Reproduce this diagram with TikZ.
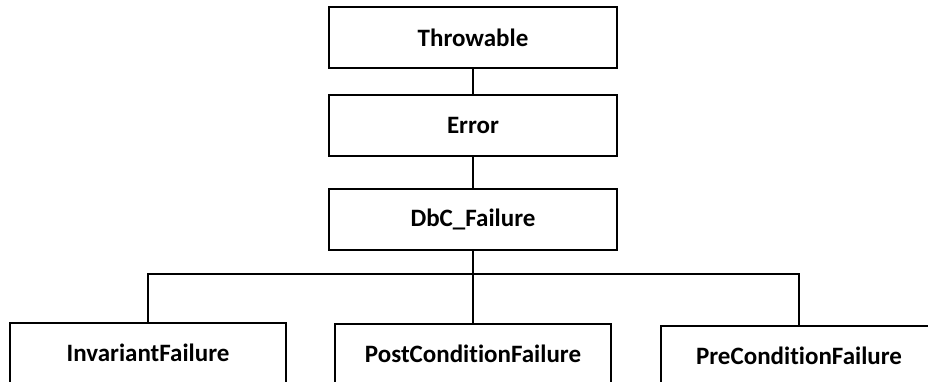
\documentclass[tikz,border=0pt]{standalone}
\usepackage{fontspec}
\setmainfont[Ligatures=NoCommon]{Carlito}
\usetikzlibrary{positioning}

\tikzset{
  cls/.style={rectangle, draw, line width=2pt, minimum width=288pt, minimum height=61pt,
    font=\fontsize{25}{30}\selectfont\bfseries},
  leaf/.style={cls, minimum width=276pt},
  link/.style={line width=2pt}
}

\begin{document}
\begin{tikzpicture}[x=1pt, y=-1pt, node distance=25pt]
    \useasboundingbox (0,0) rectangle (928,382);

    \node[cls] (throwable) at (473,37.5) {Throwable};
    \node[cls, below=of throwable] (error) {Error};
    \node[cls, below=31pt of error] (dbc) {DbC\_Failure};

    \node[leaf] (inv)  at (148,353) {InvariantFailure};
    \node[leaf] (post) at (473,354) {PostConditionFailure};
    \node[leaf] (pre)  at (799,356) {PreConditionFailure};

    \coordinate (bus) at (473,274);

    \draw[link] (throwable) -- (error);
    \draw[link] (error) -- (dbc);
    \draw[link] (dbc) -- (post);
    \draw[link] (inv.north) |- (bus) -| (pre.north);
\end{tikzpicture}
\end{document}
